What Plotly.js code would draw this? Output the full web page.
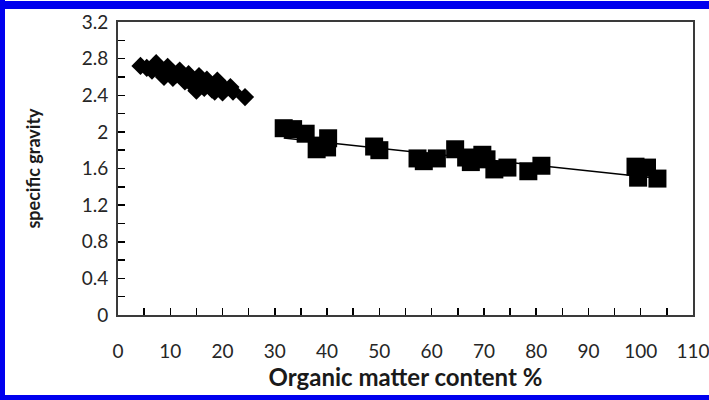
<!DOCTYPE html>
<html>
<head>
<meta charset="utf-8">
<script src="https://cdn.plot.ly/plotly-3.0.1.min.js"></script>
<style>
  html, body { margin: 0; padding: 0; background: #fff; }
  #wrap { position: relative; width: 709px; height: 400px; overflow: hidden; }
  #chart { position: absolute; left: 0; top: 0; width: 709px; height: 400px; }
  .bl { position: absolute; background: #0000ee; }
</style>
</head>
<body>
<div id="wrap">
  <div id="chart"></div>
  <div class="bl" style="left:0;top:1px;width:709px;height:8px;"></div>
  <div class="bl" style="left:0;top:0;width:5px;height:400px;"></div>
  <div class="bl" style="left:0;top:395px;width:709px;height:5px;"></div>
</div>
<script>
// Mineral-soil samples (diamonds)
const diamondX = [4.3, 5.5, 6.5, 7.3, 7.8, 8.3, 8.8, 9.5, 10, 10.5, 11, 11.8, 12.3, 12.8, 13.5, 14, 14.5, 15, 15.5, 16, 16.5, 17, 17.5, 18, 18.5, 19, 19.5, 20, 20.5, 21.5, 22, 24.3];
const diamondY = [2.72, 2.70, 2.67, 2.75, 2.70, 2.64, 2.60, 2.71, 2.66, 2.59, 2.62, 2.67, 2.61, 2.55, 2.63, 2.58, 2.50, 2.45, 2.61, 2.54, 2.48, 2.57, 2.52, 2.46, 2.44, 2.56, 2.50, 2.43, 2.47, 2.49, 2.44, 2.38];
// Organic samples (squares)
const squareX = [31.7, 33.5, 35.9, 38.0, 38.5, 40.2, 40.0, 49.0, 50.0, 57.3, 58.5, 61.0, 64.5, 66.6, 67.5, 69.7, 70.5, 72.0, 74.5, 78.5, 81.0, 99.0, 99.5, 101.2, 103.2];
const squareY = [2.04, 2.03, 1.98, 1.81, 1.85, 1.93, 1.83, 1.84, 1.80, 1.71, 1.68, 1.71, 1.81, 1.72, 1.67, 1.75, 1.70, 1.59, 1.61, 1.57, 1.63, 1.62, 1.50, 1.61, 1.49];

// Linear trendline fitted to the square series
function linFit(xs, ys) {
  const n = xs.length;
  const mx = xs.reduce((a, b) => a + b, 0) / n;
  const my = ys.reduce((a, b) => a + b, 0) / n;
  let sxy = 0, sxx = 0;
  for (let i = 0; i < n; i++) { sxy += (xs[i] - mx) * (ys[i] - my); sxx += (xs[i] - mx) ** 2; }
  const m = sxy / sxx;
  return { m: m, b: my - m * mx };
}
const fit = linFit(squareX, squareY);
const trendX = [Math.min(...squareX), Math.max(...squareX)];
const trendY = trendX.map(x => fit.m * x + fit.b);

const FONT = 'Lato, "Open Sans", sans-serif';

const traces = [
  { x: trendX, y: trendY, mode: 'lines', line: { color: '#000', width: 1.5 }, hoverinfo: 'skip' },
  { x: diamondX, y: diamondY, mode: 'markers', marker: { symbol: 'diamond', size: 14, color: '#000' } },
  { x: squareX, y: squareY, mode: 'markers', marker: { symbol: 'square', size: 18, color: '#000' } }
];

const axisCommon = {
  showgrid: false, zeroline: false,
  showline: true, linecolor: '#3a3a3a', linewidth: 2, mirror: true,
  ticks: 'inside', ticklen: 7, tickwidth: 1.5, tickcolor: '#000',
  ticklabeloverflow: 'allow',
  tickfont: { family: FONT, size: 19, color: '#262626' }
};

const layout = {
  width: 709, height: 400,
  margin: { l: 118, r: 16, t: 22, b: 85 },
  paper_bgcolor: '#fff', plot_bgcolor: '#fff',
  showlegend: false,
  xaxis: Object.assign({}, axisCommon, {
    range: [0, 110], tick0: 0, dtick: 10,
    ticklabelstandoff: 18,
    minor: { dtick: 5, ticks: 'inside', ticklen: 7, tickwidth: 1.5, tickcolor: '#000', showgrid: false },
    title: { text: 'Organic matter content %', font: { family: FONT, size: 24, color: '#1a1a1a', weight: 'bold' }, standoff: 5 }
  }),
  yaxis: Object.assign({}, axisCommon, {
    range: [0, 3.2], tick0: 0, dtick: 0.4,
    ticklabelstandoff: 4,
    minor: { dtick: 0.2, ticks: 'inside', ticklen: 7, tickwidth: 1.5, tickcolor: '#000', showgrid: false },
    title: { text: 'specific gravity', font: { family: FONT, size: 18, color: '#1a1a1a', weight: 'bold' }, standoff: 36 }
  })
};

Plotly.newPlot('chart', traces, layout, { displayModeBar: false, staticPlot: true });
</script>
</body>
</html>
